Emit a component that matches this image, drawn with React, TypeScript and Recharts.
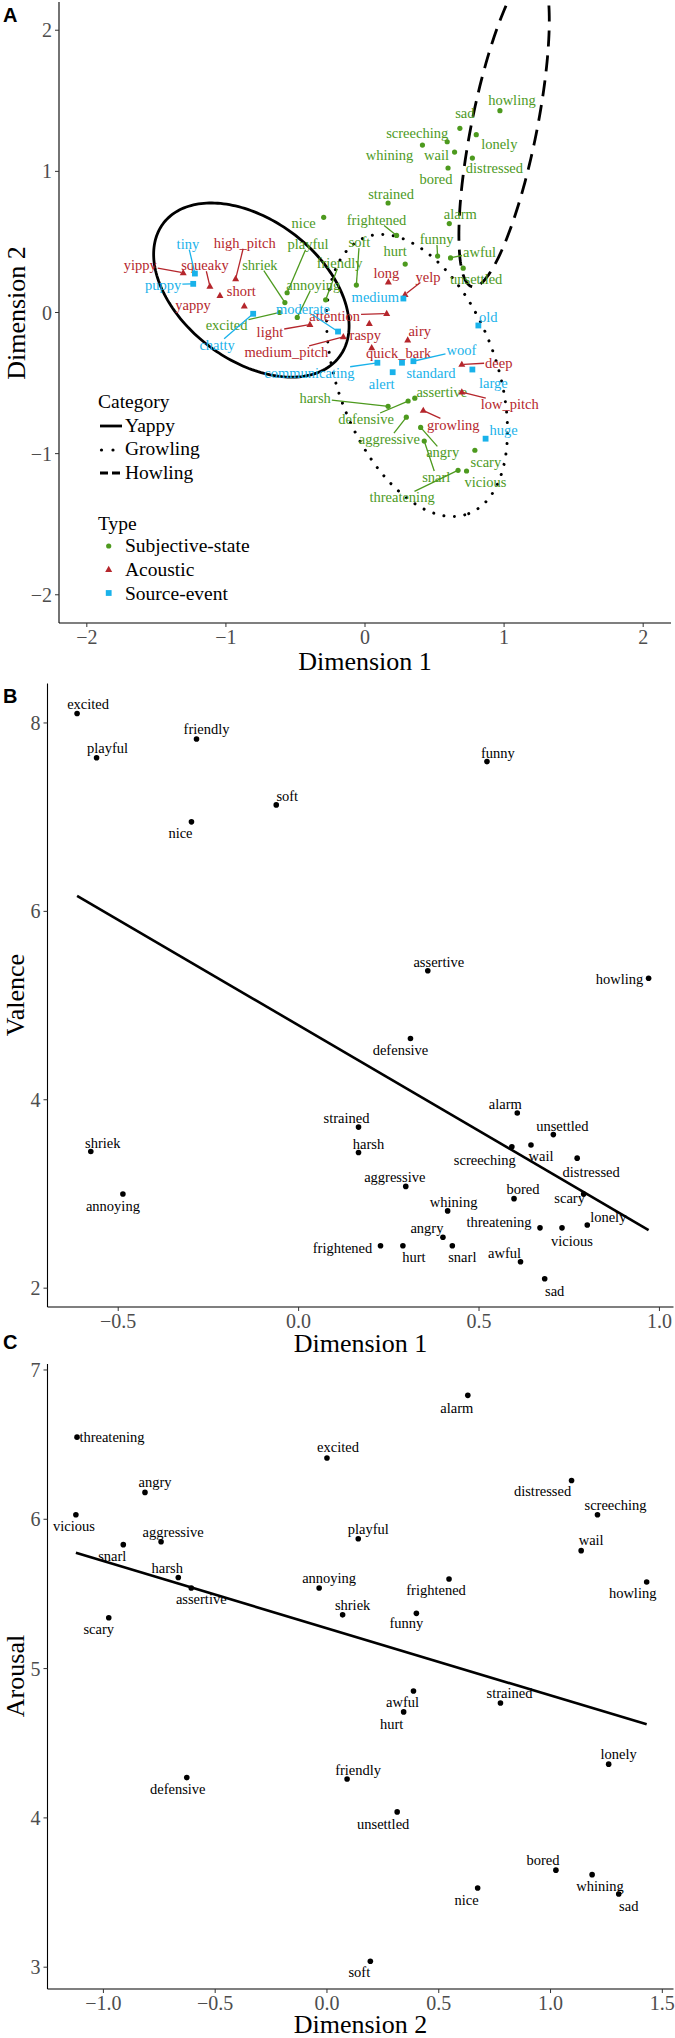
import React from 'react'
import { ReferenceLine, Scatter, ScatterChart, XAxis, YAxis } from 'recharts'

const SERIF = '"Liberation Serif", "DejaVu Serif", "Times New Roman", serif'
const SANS = '"Liberation Sans", Arial, sans-serif'

const GREEN = '#4d9a1e'
const RED = '#b5262c'
const BLUE = '#19b2ea'

// subjective-state words: MDS position (panel A) plus valence / arousal ratings
const moodTerms = ['excited', 'playful', 'friendly', 'nice', 'soft', 'funny', 'assertive', 'howling', 'defensive', 'alarm', 'strained', 'unsettled', 'shriek', 'harsh', 'screeching', 'wail', 'distressed', 'aggressive', 'annoying', 'scary', 'bored', 'whining', 'threatening', 'vicious', 'lonely', 'angry', 'frightened', 'hurt', 'snarl', 'awful', 'sad']
const moodDim1 = [-0.614, -0.56, -0.283, -0.297, -0.062, 0.522, 0.358, 0.97, 0.31, 0.606, 0.166, 0.706, -0.576, 0.166, 0.591, 0.644, 0.772, 0.297, -0.487, 0.79, 0.597, 0.413, 0.669, 0.73, 0.8, 0.4, 0.227, 0.289, 0.426, 0.615, 0.682]
const moodDim2 = [0.0, 0.14, 0.09, 0.674, 0.194, 0.4, -0.607, 1.43, -0.627, 0.63, 0.776, 0.314, 0.07, -0.665, 1.21, 1.137, 1.094, -0.742, -0.035, -0.976, 1.024, 1.186, -1.118, -1.123, 1.26, -0.814, 0.546, 0.343, -0.911, 0.387, 1.305]
const valence = [8.1, 7.63, 7.83, 6.95, 7.13, 7.59, 5.37, 5.29, 4.65, 3.86, 3.71, 3.63, 3.45, 3.44, 3.5, 3.52, 3.38, 3.08, 3.0, 3.0, 2.95, 2.82, 2.64, 2.64, 2.67, 2.54, 2.45, 2.45, 2.45, 2.28, 2.1]
const arousal = [6.41, 5.87, 4.26, 3.53, 3.04, 5.37, 5.54, 5.58, 4.27, 6.83, 4.77, 4.04, 5.36, 5.61, 6.03, 5.79, 6.26, 5.85, 5.54, 5.34, 3.65, 3.62, 6.55, 6.03, 4.36, 6.18, 5.6, 4.71, 5.83, 4.85, 3.49]

const acousticTerms = ['yippy', 'squeaky', 'high_pitch', 'yappy', 'short', 'light', 'attention', 'raspy', 'medium_pitch', 'long', 'yelp', 'airy', 'quick_bark', 'deep', 'low_pitch', 'growling']
const acousticDim1 = [-1.307, -1.115, -0.93, -1.043, -0.868, -0.396, 0.156, 0.031, -0.156, 0.168, 0.288, 0.307, 0.048, 0.696, 0.696, 0.419]
const acousticDim2 = [0.281, 0.186, 0.239, 0.12, 0.045, -0.085, -0.007, -0.078, -0.172, 0.215, 0.127, -0.196, -0.25, -0.368, -0.564, -0.694]

const sourceTerms = ['tiny', 'puppy', 'chatty', 'moderate', 'medium', 'communicating', 'alert', 'standard', 'woof', 'old', 'large', 'huge']
const sourceDim1 = [-1.223, -1.235, -0.804, -0.194, 0.276, 0.089, 0.199, 0.266, 0.348, 0.815, 0.772, 0.867]
const sourceDim2 = [0.276, 0.203, -0.009, -0.135, 0.099, -0.356, -0.423, -0.356, -0.345, -0.092, -0.404, -0.894]

// category ellipses (centre, semi-axes, rotation in degrees)
const categoryEllipses = [
  { name: 'Yappy', cx: -0.817, cy: 0.159, rx: 0.79, ry: 0.5, angle: -36.2 },
  { name: 'Growling', cx: 0.374, cy: -0.446, rx: 1.047, ry: 0.571, angle: -69.2 },
  { name: 'Howling', cx: 1.0, cy: 1.31, rx: 1.15, ry: 0.235, angle: 78.5 },
]

// linear fits shown in panels B and C
const valenceFit = { intercept: 4.79, slope: -2.24 }
const arousalFit = { intercept: 5.27, slope: -0.45 }

const dimTicks = [-2, -1, 0, 1, 2]
const valenceXTicks = [-0.5, 0, 0.5, 1]
const valenceYTicks = [2, 4, 6, 8]
const arousalXTicks = [-1, -0.5, 0, 0.5, 1, 1.5]
const arousalYTicks = [3, 4, 5, 6, 7]

// label placement (pixel nudges from the point), like ggrepel did
const nudgeA: Record<string, [number, number]> = {
  tiny: [-7, -30], puppy: [-30, 1], chatty: [-36, 31], moderate: [-35, -23], medium: [-28, -2],
  communicating: [-68, 10], alert: [-11, 12], standard: [29, 10], woof: [48, -11], old: [10, -9],
  large: [21, 13], huge: [18, -9],
  yippy: [-43, -8], squeaky: [-5, -21], high_pitch: [9, -36], yappy: [-27, 9], short: [-3, -15],
  light: [-40, 7], attention: [-52, 2], raspy: [-4, 11], medium_pitch: [-57, 15], long: [-2, -9],
  yelp: [23, -18], airy: [12, -9], quick_bark: [27, 5], deep: [37, -2], low_pitch: [48, 12], growling: [30, 14],
  nice: [-20, 6], playful: [21, -49], shriek: [-25, -38], excited: [-53, 12], annoying: [16, -33],
  friendly: [14, -37], soft: [3, -43], strained: [3, -9], frightened: [-20, -16], hurt: [-10, -13],
  alarm: [11, -10], funny: [-1, -17], awful: [29, -6], unsettled: [13, 11], howling: [12, -11],
  sad: [5, -15], lonely: [23, 9], screeching: [-30, -9], whining: [-33, 10], wail: [-18, 3],
  distressed: [22, 10], bored: [-12, 11], harsh: [-73, -8], defensive: [-42, 18], assertive: [27, -6],
  aggressive: [-17, 22], angry: [22, 25], snarl: [12, 36], threatening: [-56, 27], vicious: [19, 11], scary: [11, 12],
}
const segmentsA = new Set(['tiny', 'puppy', 'chatty', 'moderate', 'communicating', 'woof', 'yippy', 'squeaky', 'high_pitch', 'light', 'attention', 'medium_pitch', 'yelp', 'deep', 'low_pitch', 'growling', 'playful', 'shriek', 'excited', 'annoying', 'friendly', 'soft', 'frightened', 'funny', 'awful', 'harsh', 'defensive', 'aggressive', 'angry', 'snarl', 'threatening'])

const nudgeB: Record<string, [number, number]> = {
  excited: [11, -10], playful: [11, -10], friendly: [10, -10], nice: [-11, 11], soft: [11, -9], funny: [11, -9],
  assertive: [11, -9], howling: [-29, 1], defensive: [-10, 11], alarm: [-12, -9], strained: [-12, -9],
  unsettled: [9, -9], shriek: [12, -9], harsh: [10, -9], screeching: [-27, 13], wail: [10, 11],
  distressed: [14, 14], aggressive: [-11, -9], annoying: [-10, 12], scary: [-14, 4], bored: [9, -10],
  whining: [6, -9], threatening: [-41, -6], vicious: [10, 13], lonely: [21, -8], angry: [-16, -9],
  frightened: [-38, 2], hurt: [11, 11], snarl: [10, 11], awful: [-16, -9], sad: [10, 12],
}
const nudgeC: Record<string, [number, number]> = {
  alarm: [-11, 13], threatening: [35, 0], excited: [11, -11], angry: [10, -10], distressed: [-29, 10],
  vicious: [-2, 11], screeching: [18, -10], aggressive: [12, -10], snarl: [-11, 11], playful: [10, -10],
  wail: [10, -11], harsh: [-11, -10], frightened: [-13, 11], howling: [-14, 11], annoying: [10, -10],
  assertive: [10, 11], shriek: [10, -10], funny: [-10, 10], scary: [-10, 11], awful: [-11, 11],
  strained: [9, -10], hurt: [-12, 12], lonely: [10, -10], defensive: [-9, 11], friendly: [11, -9],
  unsettled: [-14, 12], bored: [-13, -10], whining: [8, 11], nice: [-11, 12], sad: [10, 12], soft: [-11, 11],
}

const LABEL_SIZE = 14.5

const moodData = moodTerms.map((term, i) => ({ term, x: moodDim1[i], y: moodDim2[i] }))
const acousticData = acousticTerms.map((term, i) => ({ term, x: acousticDim1[i], y: acousticDim2[i] }))
const sourceData = sourceTerms.map((term, i) => ({ term, x: sourceDim1[i], y: sourceDim2[i] }))
const valenceData = moodTerms.map((term, i) => ({ term, x: moodDim1[i], y: valence[i] }))
const arousalData = moodTerms.map((term, i) => ({ term, x: moodDim2[i], y: arousal[i] }))

let measureCtx: CanvasRenderingContext2D | null = null
function textWidth(s: string, size: number) {
  if (!measureCtx) measureCtx = document.createElement('canvas').getContext('2d')
  if (!measureCtx) return s.length * size * 0.45
  measureCtx.font = `${size}px ${SERIF}`
  return measureCtx.measureText(s).width
}

function ellipsePoints(e: typeof categoryEllipses[number]) {
  const a = (e.angle * Math.PI) / 180
  const pts = []
  for (let k = 0; k <= 200; k++) {
    const t = (k / 200) * Math.PI * 2
    pts.push({
      x: e.cx + e.rx * Math.cos(t) * Math.cos(a) - e.ry * Math.sin(t) * Math.sin(a),
      y: e.cy + e.rx * Math.cos(t) * Math.sin(a) + e.ry * Math.sin(t) * Math.cos(a),
    })
  }
  return pts
}

const ellipseStyles: Record<string, any> = {
  Yappy: { stroke: '#000', strokeWidth: 2.8 },
  Growling: { stroke: '#000', strokeWidth: 3, strokeDasharray: '0.01 10.5', strokeLinecap: 'round' },
  Howling: { stroke: '#000', strokeWidth: 2.8, strokeDasharray: '16 9' },
}

function Marker({ kind, x, y, color }: { kind: string; x: number; y: number; color: string }) {
  if (kind === 'triangle') {
    return <polygon points={`${x},${y - 3.8} ${x - 3.5},${y + 2.4} ${x + 3.5},${y + 2.4}`} fill={color} />
  }
  if (kind === 'square') return <rect x={x - 2.9} y={y - 2.9} width={5.8} height={5.8} fill={color} />
  return <circle cx={x} cy={y} r={2.6} fill={color} />
}

function wordShape(kind: string, color: string) {
  return (props: any) => {
    const { cx, cy, payload } = props
    const term: string = payload.term
    const [dx, dy] = nudgeA[term] || [0, -10]
    const lx = cx + dx
    const ly = cy + dy
    let seg = null
    if (segmentsA.has(term)) {
      const hw = textWidth(term, LABEL_SIZE) / 2 + 1
      const hh = 6
      const vx = cx - lx
      const vy = cy - ly
      const len = Math.hypot(vx, vy)
      const t = Math.min(vx !== 0 ? hw / Math.abs(vx) : Infinity, vy !== 0 ? hh / Math.abs(vy) : Infinity)
      if (t < 1 && len > 0) {
        seg = (
          <line
            x1={lx + vx * t}
            y1={ly + vy * t}
            x2={cx - (vx / len) * 2}
            y2={cy - (vy / len) * 2}
            stroke={color}
            strokeWidth={1.3}
          />
        )
      }
    }
    return (
      <g>
        {seg}
        <Marker kind={kind} x={cx} y={cy} color={color} />
        <text x={lx} y={ly} dy="0.35em" textAnchor="middle" fill={color} fontSize={LABEL_SIZE} fontFamily={SERIF}>
          {term}
        </text>
      </g>
    )
  }
}

function ratingShape(nudges: Record<string, [number, number]>) {
  return (props: any) => {
    const { cx, cy, payload } = props
    const [dx, dy] = nudges[payload.term] || [0, -10]
    return (
      <g>
        <circle cx={cx} cy={cy} r={2.8} fill="#000" />
        <text x={cx + dx} y={cy + dy} dy="0.35em" textAnchor="middle" fill="#000" fontSize={LABEL_SIZE} fontFamily={SERIF}>
          {payload.term}
        </text>
      </g>
    )
  }
}

const minus = (v: number, digits?: number) => {
  const s = digits === undefined ? String(Math.abs(v)) : Math.abs(v).toFixed(digits)
  return v < 0 ? '\u2212' + s : s
}

// tick renderers so the serif face is used for sure
const xTick = (digits?: number) => (p: any) => (
  <text x={p.x} y={p.y} dy="0.71em" textAnchor="middle" fill="#4d4d4d" fontSize={20} fontFamily={SERIF}>
    {minus(p.payload.value, digits)}
  </text>
)
const yTick = (p: any) => (
  <text x={p.x} y={p.y} dy="0.35em" textAnchor="end" fill="#4d4d4d" fontSize={20} fontFamily={SERIF}>
    {minus(p.payload.value)}
  </text>
)

const axisLineStyle = { stroke: '#000', strokeWidth: 1.1 }
const tickLineStyle = { stroke: '#333', strokeWidth: 1 }

function DimensionPanel() {
  return (
    <ScatterChart width={675} height={680} margin={{ top: 2, right: 4, bottom: 0, left: 0 }}>
      <XAxis
        type="number"
        dataKey="x"
        domain={[-2.2, 2.2]}
        ticks={dimTicks}
        allowDataOverflow
        height={57}
        tickSize={4}
        tickMargin={3}
        tick={xTick()}
        axisLine={axisLineStyle}
        tickLine={tickLineStyle}
      />
      <YAxis
        type="number"
        dataKey="y"
        domain={[-2.2, 2.2]}
        ticks={dimTicks}
        allowDataOverflow
        width={59}
        tickSize={4}
        tickMargin={3}
        tick={yTick}
        axisLine={axisLineStyle}
        tickLine={tickLineStyle}
      />
      {categoryEllipses.map((e) => (
        <Scatter
          key={e.name}
          data={ellipsePoints(e)}
          line={{ fill: 'none', ...ellipseStyles[e.name] }}
          lineType="joint"
          shape={() => <g />}
          isAnimationActive={false}
        />
      ))}
      <Scatter data={moodData} shape={wordShape('circle', GREEN)} isAnimationActive={false} />
      <Scatter data={acousticData} shape={wordShape('triangle', RED)} isAnimationActive={false} />
      <Scatter data={sourceData} shape={wordShape('square', BLUE)} isAnimationActive={false} />
    </ScatterChart>
  )
}

interface RatingPanelProps {
  data: { term: string; x: number; y: number }[]
  fit: { intercept: number; slope: number }
  nudges: Record<string, [number, number]>
  xDomain: [number, number]
  yDomain: [number, number]
  xTicks: number[]
  yTicks: number[]
  height: number
  top: number
}

function RatingPanel({ data, fit, nudges, xDomain, yDomain, xTicks, yTicks, height, top }: RatingPanelProps) {
  const xs = data.map((d) => d.x)
  const x0 = Math.min(...xs)
  const x1 = Math.max(...xs)
  return (
    <ScatterChart width={675} height={height} margin={{ top, right: 1.5, bottom: 0, left: 0 }}>
      <XAxis
        type="number"
        dataKey="x"
        domain={xDomain}
        ticks={xTicks}
        allowDataOverflow
        height={40}
        tickSize={4}
        tickMargin={3}
        tick={xTick(1)}
        axisLine={axisLineStyle}
        tickLine={tickLineStyle}
      />
      <YAxis
        type="number"
        dataKey="y"
        domain={yDomain}
        ticks={yTicks}
        allowDataOverflow
        width={47.5}
        tickSize={4}
        tickMargin={3}
        tick={yTick}
        axisLine={axisLineStyle}
        tickLine={tickLineStyle}
      />
      <ReferenceLine
        segment={[
          { x: x0, y: fit.intercept + fit.slope * x0 },
          { x: x1, y: fit.intercept + fit.slope * x1 },
        ]}
        stroke="#000"
        strokeWidth={2.6}
        ifOverflow="visible"
      />
      <Scatter data={data} shape={ratingShape(nudges)} isAnimationActive={false} />
    </ScatterChart>
  )
}

function Overlay() {
  const lt = { fontFamily: SERIF, fontSize: 19.5, fill: '#000' }
  const title = { fontFamily: SERIF, fontSize: 26, fill: '#000' }
  const letter = { fontFamily: SANS, fontSize: 20, fontWeight: 700, fill: '#000' }
  return (
    <svg width={675} height={2038} style={{ position: 'absolute', left: 0, top: 0, pointerEvents: 'none' }}>
      <text x={3} y={22} {...letter}>A</text>
      <text x={3} y={703} {...letter}>B</text>
      <text x={3} y={1349} {...letter}>C</text>

      <text x={365} y={670} textAnchor="middle" {...title}>Dimension 1</text>
      <text x={25} y={313} textAnchor="middle" transform="rotate(-90 25 313)" {...title}>Dimension 2</text>
      <text x={360.5} y={1352} textAnchor="middle" {...title}>Dimension 1</text>
      <text x={24} y={995} textAnchor="middle" transform="rotate(-90 24 995)" {...title}>Valence</text>
      <text x={360.5} y={2033} textAnchor="middle" {...title}>Dimension 2</text>
      <text x={24} y={1676} textAnchor="middle" transform="rotate(-90 24 1676)" {...title}>Arousal</text>

      <text x={98} y={408} {...lt}>Category</text>
      <line x1={100} x2={122} y1={426} y2={426} stroke="#000" strokeWidth={2.8} />
      <text x={125} y={432} {...lt}>Yappy</text>
      <circle cx={101.5} cy={450} r={1.6} fill="#000" />
      <circle cx={113} cy={450} r={1.6} fill="#000" />
      <text x={125} y={455} {...lt}>Growling</text>
      <line x1={100} x2={122} y1={473} y2={473} stroke="#000" strokeWidth={2.8} strokeDasharray="8 4" />
      <text x={125} y={478.5} {...lt}>Howling</text>

      <text x={98} y={529.5} {...lt}>Type</text>
      <Marker kind="circle" x={108.7} y={546} color={GREEN} />
      <text x={125} y={552} {...lt}>Subjective-state</text>
      <Marker kind="triangle" x={108.7} y={569.5} color={RED} />
      <text x={125} y={576} {...lt}>Acoustic</text>
      <Marker kind="square" x={108.7} y={593} color={BLUE} />
      <text x={125} y={599.5} {...lt}>Source-event</text>
    </svg>
  )
}

export default function App() {
  return (
    <div style={{ position: 'absolute', left: 0, top: 0, width: 675, height: 2038, background: '#fff', overflow: 'hidden', fontFamily: SERIF }}>
      <div style={{ position: 'absolute', left: 0, top: 0 }}>
        <DimensionPanel />
      </div>
      <div style={{ position: 'absolute', left: 0, top: 680 }}>
        <RatingPanel
          data={valenceData}
          fit={valenceFit}
          nudges={nudgeB}
          xDomain={[-0.696, 1.039]}
          yDomain={[1.8, 8.42]}
          xTicks={valenceXTicks}
          yTicks={valenceYTicks}
          height={667}
          top={3.4}
        />
      </div>
      <div style={{ position: 'absolute', left: 0, top: 1347 }}>
        <RatingPanel
          data={arousalData}
          fit={arousalFit}
          nudges={nudgeC}
          xDomain={[-1.25, 1.55]}
          yDomain={[2.854, 7.04]}
          xTicks={arousalXTicks}
          yTicks={arousalYTicks}
          height={682}
          top={17}
        />
      </div>
      <Overlay />
    </div>
  )
}
